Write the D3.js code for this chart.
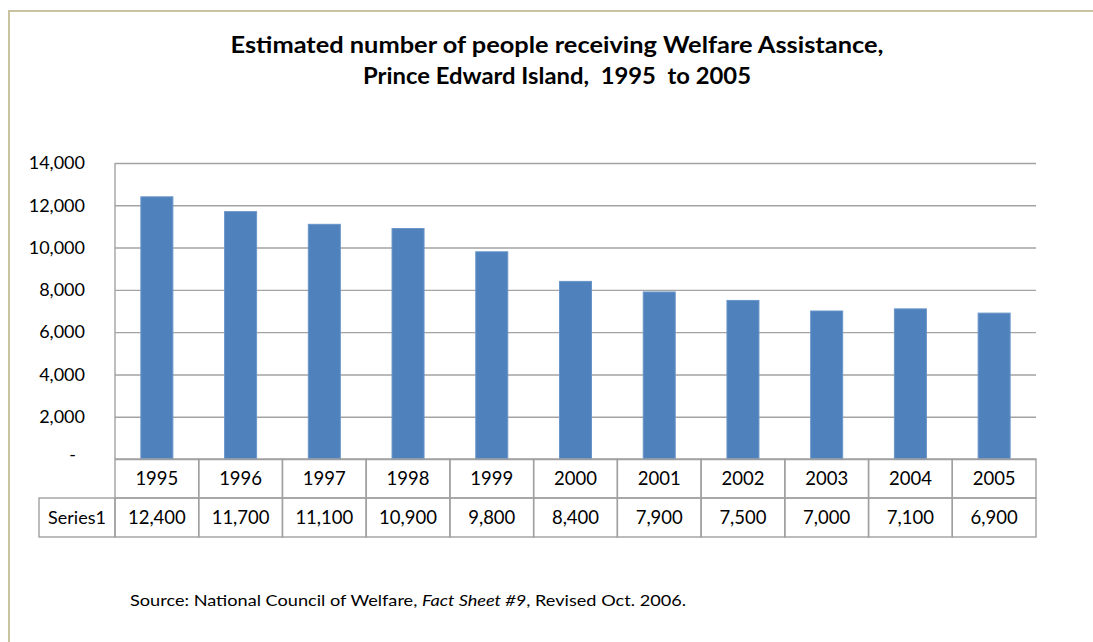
<!DOCTYPE html>
<html>
<head>
<meta charset="utf-8">
<script src="https://cdn.jsdelivr.net/npm/d3@7"></script>
<style>
  body { margin: 0; background: #fff; }
  svg { display: block; font-family: Lato, "Open Sans", sans-serif; }
</style>
</head>
<body>
<div id="container"></div>
<script>
// data
const years = ['1995', '1996', '1997', '1998', '1999', '2000', '2001', '2002', '2003', '2004', '2005']
const values = [12400, 11700, 11100, 10900, 9800, 8400, 7900, 7500, 7000, 7100, 6900]
const seriesName = 'Series1'
const yTicks = [0, 2000, 4000, 6000, 8000, 10000, 12000, 14000]
const titleLines = ['Estimated number of people receiving Welfare Assistance,', 'Prince Edward Island,  1995  to 2005']

var initWidth = 1093
var initHeight = 642
var plot = { left: 115, top: 163, right: 1036, bottom: 459 }
var rowH = 39

var svg = d3.select('#container')
            .append('svg')
            .attr('width', initWidth)
            .attr('height', initHeight)

// outer frame
svg.append('rect')
   .attr('x', 9).attr('y', 11)
   .attr('width', 1200).attr('height', 800)
   .attr('fill', 'none')
   .attr('stroke', '#c9c3a2')
   .attr('stroke-width', 2)

// title
var titleWidths = [653, 388]
svg.append('g').selectAll('text')
   .data(titleLines)
   .enter()
   .append('text')
   .text(d => d)
   .attr('x', 557)
   .attr('y', (d, i) => 53 + i * 31)
   .attr('text-anchor', 'middle')
   .attr('font-size', '23px')
   .attr('font-weight', 'bold')
   .attr('textLength', (d, i) => titleWidths[i])
   .attr('lengthAdjust', 'spacingAndGlyphs')
   .style('white-space', 'pre')
   .attr('fill', '#000')

// scales
let xScale = d3.scaleBand()
               .domain(years)
               .range([plot.left, plot.right])
let yScale = d3.scaleLinear()
               .domain([0, 14000])
               .range([plot.bottom, plot.top])

// gridlines
svg.append('g')
   .attr('class', 'grid')
   .attr('transform', 'translate(' + plot.left + ',0)')
   .call(d3.axisLeft(yScale).tickValues(yTicks).tickSize(-(plot.right - plot.left)).tickFormat(''))
   .call(g => g.select('.domain').remove())
   .call(g => g.selectAll('line').attr('stroke', '#a3a3a3').attr('stroke-width', 1.4))

// y axis line
svg.append('line')
   .attr('x1', plot.left).attr('x2', plot.left)
   .attr('y1', plot.top).attr('y2', plot.bottom)
   .attr('stroke', '#a3a3a3').attr('stroke-width', 1.4)

// y tick labels
let yAxis = d3.axisLeft(yScale)
              .tickValues(yTicks)
              .tickSize(0)
              .tickPadding(30)
              .tickFormat(d => d === 0 ? '-' : d3.format(',')(d))
svg.append('g')
   .attr('class', 'axis')
   .attr('transform', 'translate(' + plot.left + ',0)')
   .call(yAxis)
   .call(g => g.select('.domain').remove())
   .call(g => g.selectAll('text')
              .attr('font-size', '18px')
              .attr('font-family', 'Lato, sans-serif')
              .attr('fill', '#000')
              .attr('dy', '0.32em'))
   .call(g => g.selectAll('.tick text').filter(d => d === 0).attr('dx', '-9px').attr('dy', '0.1em'))

// bars
svg.append('g').selectAll('rect')
   .data(values)
   .enter()
   .append('rect')
   .attr('x', (d, i) => xScale(years[i]) + xScale.bandwidth() / 2 - 16)
   .attr('width', 32)
   .attr('y', d => yScale(d))
   .attr('height', d => plot.bottom - yScale(d))
   .attr('fill', '#4f81bd')
   .attr('stroke', '#6a95c9')
   .attr('stroke-width', 1)

// data table
var table = svg.append('g').attr('class', 'table')
var tableStroke = '#a0a0a0'

// header row cells (years)
table.selectAll('rect.year')
     .data(years)
     .enter()
     .append('rect')
     .attr('class', 'year')
     .attr('x', d => xScale(d))
     .attr('y', plot.bottom)
     .attr('width', xScale.bandwidth())
     .attr('height', rowH)
     .attr('fill', 'none')
     .attr('stroke', tableStroke)
     .attr('stroke-width', 1.4)
table.selectAll('text.year')
     .data(years)
     .enter()
     .append('text')
     .attr('class', 'year')
     .text(d => d)
     .attr('x', d => xScale(d) + xScale.bandwidth() / 2)
     .attr('y', plot.bottom + rowH / 2)
     .attr('dy', '0.35em')
     .attr('text-anchor', 'middle')
     .attr('font-size', '18.5px')

// values row
table.selectAll('rect.val')
     .data(values)
     .enter()
     .append('rect')
     .attr('class', 'val')
     .attr('x', (d, i) => xScale(years[i]))
     .attr('y', plot.bottom + rowH)
     .attr('width', xScale.bandwidth())
     .attr('height', rowH)
     .attr('fill', 'none')
     .attr('stroke', tableStroke)
     .attr('stroke-width', 1.4)
table.selectAll('text.val')
     .data(values)
     .enter()
     .append('text')
     .attr('class', 'val')
     .text(d => d3.format(',')(d))
     .attr('x', (d, i) => xScale(years[i]) + xScale.bandwidth() / 2)
     .attr('y', plot.bottom + rowH * 1.5)
     .attr('dy', '0.35em')
     .attr('text-anchor', 'middle')
     .attr('font-size', '18.5px')

// series label cell
table.append('rect')
     .attr('x', 39)
     .attr('y', plot.bottom + rowH)
     .attr('width', plot.left - 39)
     .attr('height', rowH)
     .attr('fill', 'none')
     .attr('stroke', tableStroke)
     .attr('stroke-width', 1.4)
table.append('text')
     .text(seriesName)
     .attr('x', 77)
     .attr('y', plot.bottom + rowH * 1.5)
     .attr('dy', '0.35em')
     .attr('text-anchor', 'middle')
     .attr('font-size', '18px')

// source note
var src = svg.append('text')
             .attr('x', 130)
             .attr('y', 606)
             .attr('font-size', '16px')
             .attr('textLength', 556)
             .attr('lengthAdjust', 'spacingAndGlyphs')
             .attr('fill', '#000')
src.append('tspan').text('Source: National Council of Welfare, ')
src.append('tspan').attr('font-style', 'italic').text('Fact Sheet #9')
src.append('tspan').text(', Revised Oct. 2006.')
</script>
</body>
</html>
